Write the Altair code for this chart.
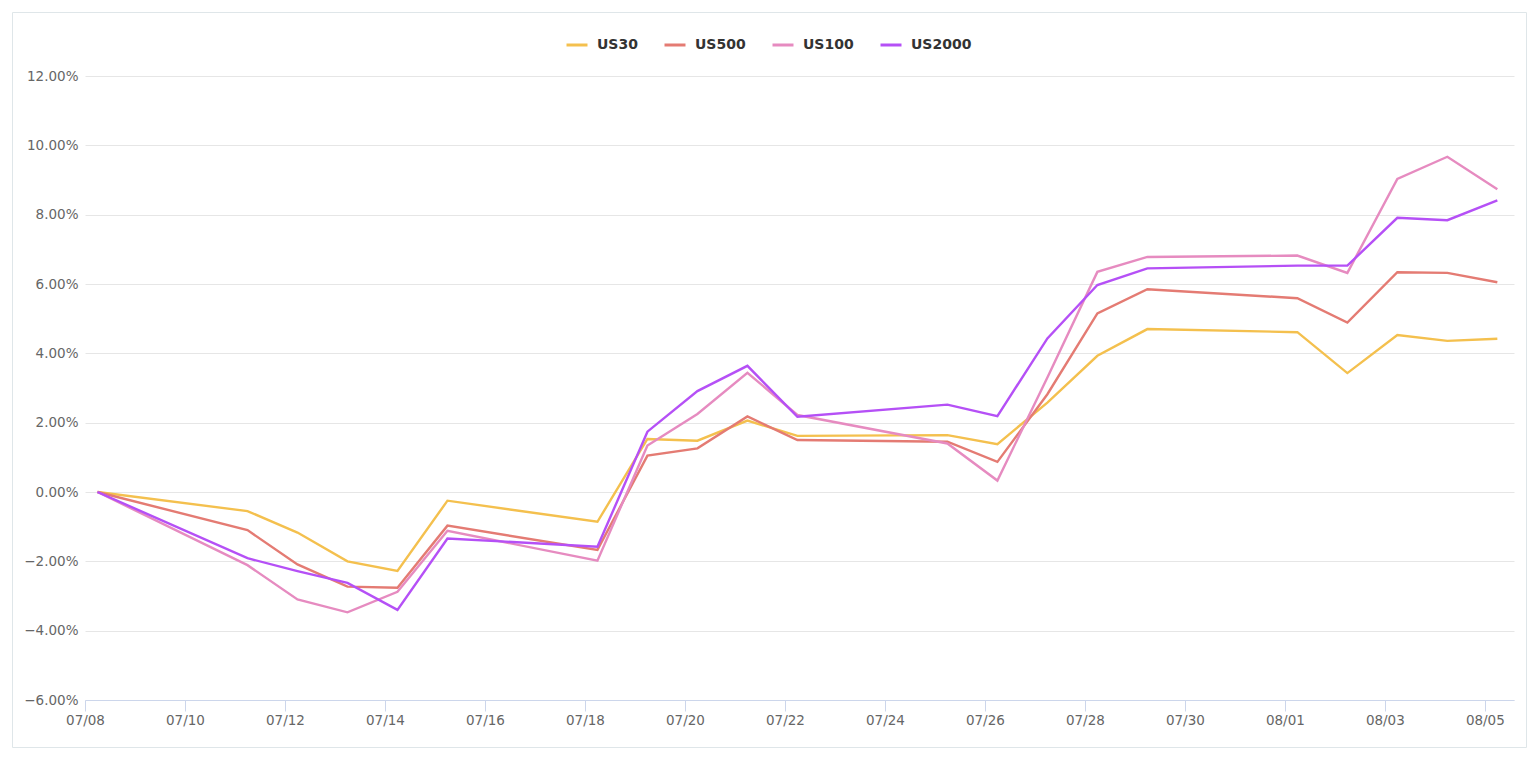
import altair as alt
import pandas as pd

# ---- data ----
dates = ["2022-07-08", "2022-07-11", "2022-07-12", "2022-07-13", "2022-07-14", "2022-07-15",
         "2022-07-18", "2022-07-19", "2022-07-20", "2022-07-21", "2022-07-22",
         "2022-07-25", "2022-07-26", "2022-07-27", "2022-07-28", "2022-07-29",
         "2022-08-01", "2022-08-02", "2022-08-03", "2022-08-04", "2022-08-05"]
series_names = ["US30", "US500", "US100", "US2000"]
us30 = [0.00, -0.55, -1.17, -2.00, -2.28, -0.25, -0.86, 1.53, 1.48, 2.06, 1.62,
        1.64, 1.38, 2.58, 3.93, 4.70, 4.61, 3.43, 4.53, 4.36, 4.42]
us500 = [0.00, -1.10, -2.09, -2.73, -2.76, -0.97, -1.67, 1.05, 1.26, 2.18, 1.50,
         1.45, 0.87, 2.82, 5.15, 5.85, 5.59, 4.89, 6.34, 6.32, 6.05]
us100 = [0.00, -2.11, -3.10, -3.47, -2.88, -1.12, -1.98, 1.34, 2.25, 3.44, 2.22,
         1.40, 0.33, 3.30, 6.35, 6.78, 6.82, 6.32, 9.03, 9.67, 8.73]
us2000 = [0.00, -1.91, -2.28, -2.62, -3.40, -1.34, -1.58, 1.74, 2.91, 3.64, 2.17,
          2.52, 2.19, 4.43, 5.97, 6.45, 6.53, 6.53, 7.91, 7.84, 8.41]
colors = ["#f4c04e", "#e47b73", "#e68bc0", "#b550f6"]
x_tick_labels = ["07/08", "07/10", "07/12", "07/14", "07/16", "07/18", "07/20", "07/22",
                 "07/24", "07/26", "07/28", "07/30", "08/01", "08/03", "08/05"]
y_ticks = [-6, -4, -2, 0, 2, 4, 6, 8, 10, 12]

rows = []
for name, vals in zip(series_names, [us30, us500, us100, us2000]):
    for d, v in zip(dates, vals):
        rows.append({"date": d + "T06:00:00Z", "series": name, "value": v / 100.0})
df = pd.DataFrame(rows)

tick_values = [alt.DateTime(year=2022, month=int(t[:2]), date=int(t[3:]), utc=True)
               for t in x_tick_labels]

W, H = 1429, 624
LEFT, TOP = 85, 76

x = alt.X("date:T",
          scale=alt.Scale(type="utc",
                          domain=[alt.DateTime(year=2022, month=7, date=8, utc=True),
                                  alt.DateTime(year=2022, month=8, date=5, hours=14, utc=True)]),
          axis=alt.Axis(values=tick_values, labelExpr="utcFormat(datum.value, '%m/%d')",
                        title=None,
                        grid=False, domainColor="#ccd6eb", tickColor="#ccd6eb",
                        tickSize=11, labelPadding=2, labelColor="#666666",
                        labelFontSize=13.5, labelFont="DejaVu Sans", labelAngle=0,
                        labelFlush=False, labelOverlap=False))
y = alt.Y("value:Q",
          scale=alt.Scale(domain=[-0.06, 0.12], nice=False),
          axis=alt.Axis(values=[v / 100 for v in y_ticks], format=".2%", title=None,
                        domain=False, ticks=False, gridColor="#e6e6e6",
                        labelColor="#666666", labelFontSize=13.5, labelFont="DejaVu Sans",
                        labelPadding=7))

lines = alt.Chart(df).mark_line(strokeWidth=2.4).encode(
    x=x, y=y,
    color=alt.Color("series:N",
                    scale=alt.Scale(domain=series_names, range=colors),
                    sort=series_names,
                    legend=alt.Legend(title=None, orient="none", direction="horizontal",
                                      legendX=480, legendY=-43,
                                      symbolType="stroke", symbolSize=441,
                                      symbolStrokeWidth=3, labelFont="DejaVu Sans",
                                      labelFontWeight="bold", labelFontSize=14,
                                      labelColor="#333333", labelOffset=8,
                                      columnPadding=20, padding=0)),
)

border = alt.Chart(pd.DataFrame({"k": [0]})).mark_rect(
    fill=None, stroke="#dfe6e9", strokeWidth=1, clip=False
).encode(
    x=alt.value(12.5 - LEFT), x2=alt.value(1526.5 - LEFT),
    y=alt.value(12.5 - TOP), y2=alt.value(747.5 - TOP),
)

chart = alt.layer(border, lines).properties(
    width=W, height=H,
    autosize=alt.AutoSizeParams(type="none"),
    padding={"left": LEFT, "top": TOP, "right": 1538 - LEFT - W, "bottom": 760 - TOP - H},
    background="white",
).configure_view(stroke=None)

chart.save("out.html", embed_options={"renderer": "svg", "actions": False})
